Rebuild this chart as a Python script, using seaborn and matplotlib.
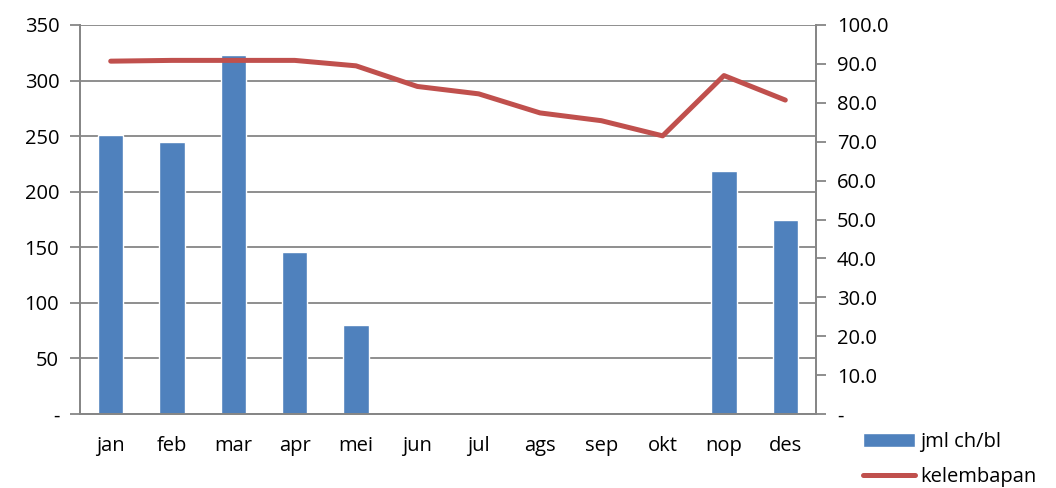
import matplotlib
matplotlib.use("Agg")
import matplotlib.pyplot as plt
import seaborn as sns
import pandas as pd
from matplotlib.ticker import FixedLocator, FuncFormatter

sns.set_style("white")
plt.rcParams['font.family'] = ['Open Sans', 'DejaVu Sans']
plt.rcParams['text.color'] = 'black'
plt.rcParams['xtick.color'] = 'black'
plt.rcParams['ytick.color'] = 'black'

months = ["jan", "feb", "mar", "apr", "mei", "jun", "jul", "ags", "sep", "okt", "nop", "des"]
rain = [251, 245, 323, 146, 80, 0, 0, 0, 0, 0, 219, 175]
humidity = [90.7, 90.9, 90.9, 90.9, 89.5, 84.2, 82.3, 77.4, 75.4, 71.5, 87.0, 80.7]

df = pd.DataFrame({"bulan": months, "jml ch/bl": rain, "kelembapan": humidity})

blue = "#4f81bd"
red = "#c0504d"
grey = "#868686"
fs = 14.5

fig = plt.figure(figsize=(10.56, 4.88), dpi=100)
ax = fig.add_axes([0.0758, 0.1516, 0.6969, 0.7972])

sns.barplot(data=df, x="bulan", y="jml ch/bl", color=blue, width=0.41,
            saturation=1, ax=ax, label="jml ch/bl")
ax.set_ylim(0, 350)
ax.set_xlim(-0.5, 11.5)
ax.yaxis.set_major_locator(FixedLocator(range(0, 351, 50)))
ax.yaxis.set_major_formatter(FuncFormatter(lambda v, p: "-" if v == 0 else f"{v:.0f}"))
ax.grid(axis="y", color=grey, linewidth=1.3)
ax.set_axisbelow(True)
ax.set_xlabel("")
ax.set_ylabel("")

ax2 = ax.twinx()
sns.pointplot(data=df, x="bulan", y="kelembapan", color=red, markers="",
              linestyles="-", linewidth=3.6, ax=ax2, label="kelembapan")
ax2.set_ylim(0, 100)
ax2.set_xlim(-0.5, 11.5)
ax2.yaxis.set_major_locator(FixedLocator(range(0, 101, 10)))
ax2.yaxis.set_major_formatter(FuncFormatter(lambda v, p: "-" if v == 0 else f"{v:.1f}"))
ax2.set_ylabel("")
ax2.set_xlabel("")

# category boundaries as tick marks, labels in the middle
ax.set_xticks([i + 0.5 for i in range(-1, 12)], minor=False)
ax.set_xticklabels([])
ax.set_xticks(range(12), minor=True)
ax.set_xticklabels(months, minor=True)
ax.tick_params(axis="x", which="major", direction="out", length=7, color=grey, width=1.3)
ax.tick_params(axis="x", which="minor", length=0, labelsize=fs, pad=16)
ax.tick_params(axis="y", direction="out", length=7, color=grey, width=1.3, labelsize=fs, pad=8)
ax2.tick_params(axis="y", direction="out", length=7, color=grey, width=1.3, labelsize=fs, pad=8)

for a in (ax, ax2):
    a.spines["top"].set_visible(False)
    for s in ("left", "right", "bottom"):
        a.spines[s].set_color(grey)
        a.spines[s].set_linewidth(1.3)

h1, l1 = ax.get_legend_handles_labels()
h2, l2 = ax2.get_legend_handles_labels()
for a in (ax, ax2):
    if a.get_legend() is not None:
        a.get_legend().remove()

fig.legend(h1 + h2, l1 + l2, loc="lower left", bbox_to_anchor=(0.8, -0.035),
           frameon=False, fontsize=fs, handlelength=2.6, handletextpad=0.25,
           labelspacing=0.75)

fig.savefig("out.png", dpi=100)
